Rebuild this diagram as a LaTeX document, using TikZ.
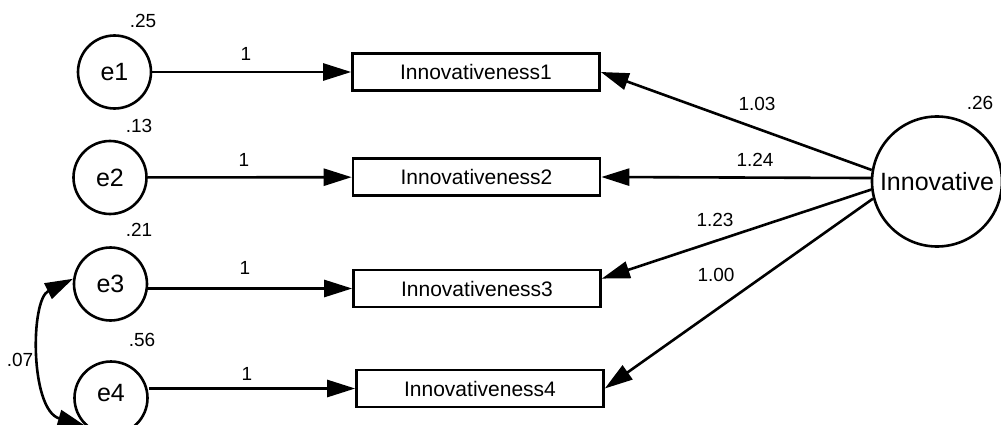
\documentclass[tikz,border=0pt]{standalone}
\usepackage{fontspec}
\setmainfont{Liberation Sans}
\usetikzlibrary{arrows.meta,calc}
\tikzset{
  lw/.style={line width=2.6pt},
  ecirc/.style={circle,draw,lw,minimum size=73pt,inner sep=0pt,font=\fontsize{25}{28}\selectfont},
  lat/.style={circle,draw,lw,minimum size=130pt,inner sep=0pt,font=\fontsize{25}{28}\selectfont},
  obs/.style={rectangle,draw,lw,minimum width=247pt,minimum height=37pt,inner sep=0pt,font=\fontsize{21}{24}\selectfont},
  num/.style={inner sep=0pt,font=\fontsize{19}{22}\selectfont},
  arr/.style={lw,-{Triangle[length=28pt,width=17pt]}},
  biarr/.style={lw,{Triangle[length=28pt,width=17pt]}-{Triangle[length=28pt,width=17pt]}}
}
\begin{document}
\begin{tikzpicture}[x=1pt,y=-1pt]
\clip (0,0) rectangle (1001,425);
\fill[white] (0,0) rectangle (1001,425);
% error terms
\node[ecirc] (e1) at (114.5,72) {e1};
\node[ecirc] (e2) at (110,177.5) {e2};
\node[ecirc] (e3) at (110.5,284) {e3};
\node[ecirc] (e4) at (111,398) {};
\node[inner sep=0pt,font=\fontsize{25}{28}\selectfont] (e4t) at (111,393) {e4};
% observed
\node[obs] (b1) at (476,72) {Innovativeness1};
\node[obs] (b2) at (476.5,177) {Innovativeness2};
\node[obs] (b3) at (477,288.5) {Innovativeness3};
\node[obs] (b4) at (480,388.5) {Innovativeness4};
% latent
\node[lat] (inn) at (937,181.5) {Innovative};
% e -> boxes
\draw[arr] (e1) -- (b1);
\draw[arr] (e2) -- (b2);
\draw[arr] (b3.west -| e3.east) -- (b3.west);
\draw[arr] (b4.west -| e4.east) -- (b4.west);
% latent -> boxes
\draw[arr] (inn.170) -- (b1.east);
\draw[arr] (inn.177) -- (b2.east);
\draw[arr] (inn.187.5) -- ($(b3.north east)!0.25!(b3.south east)$);
\draw[arr] (inn.195) -- (b4.east);
% covariance
\draw[biarr] (e3.172) .. controls (30,300) and (30,410) .. (e4.228);
% labels
\node[num] (v1) at (143,21) {.25};
\node[num] (v2) at (139,126) {.13};
\node[num] (v3) at (139,230) {.21};
\node[num] (v4) at (142,340) {.56};
\node[num] (c34) at (20,360) {.07};
\node[num] (vi) at (980,103) {.26};
\node[num] (l1) at (246,54) {1};
\node[num] (l2) at (244,160) {1};
\node[num] (l3) at (245,268) {1};
\node[num] (l4) at (247,374) {1};
\node[num] (w1) at (757,104) {1.03};
\node[num] (w2) at (755,160) {1.24};
\node[num] (w3) at (715,220) {1.23};
\node[num] (w4) at (716,275) {1.00};
\end{tikzpicture}
\end{document}
